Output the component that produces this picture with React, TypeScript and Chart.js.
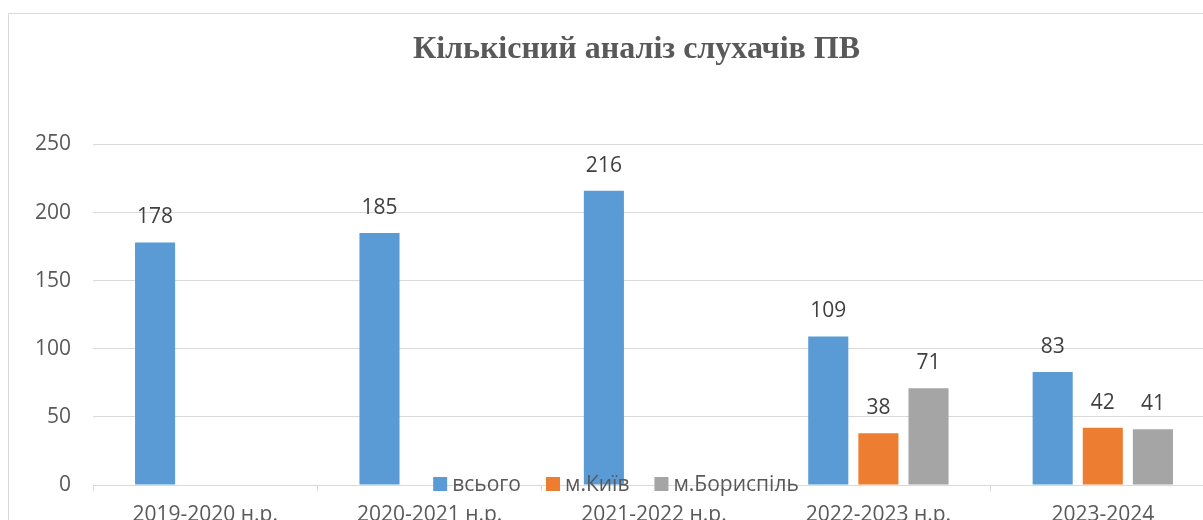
import React, { useEffect, useRef } from "react";
import { Chart, registerables } from "chart.js";

Chart.register(...registerables);

const chartTitle = "Кількісний аналіз слухачів ПВ";
const categories = ["2019-2020 н.р.", "2020-2021 н.р.", "2021-2022 н.р.", "2022-2023 н.р.", "2023-2024"];
const seriesNames = ["всього", "м.Київ", "м.Бориспіль"];
const totalValues = [178, 185, 216, 109, 83];
const kyivValues = [null, null, null, 38, 42];
const boryspilValues = [null, null, null, 71, 41];
const yTicks = [0, 50, 100, 150, 200, 250];

const seriesColors = ["#5B9BD5", "#ED7D31", "#A5A5A5"];
const FONT = "'Open Sans', 'Noto Sans', sans-serif";

const valueLabels = {
  id: "valueLabels",
  afterDatasetsDraw(chart: any) {
    const ctx = chart.ctx;
    ctx.save();
    ctx.font = `21px ${FONT}`;
    ctx.fillStyle = "#404040";
    ctx.textAlign = "center";
    ctx.textBaseline = "alphabetic";
    chart.data.datasets.forEach((ds: any, i: number) => {
      const meta = chart.getDatasetMeta(i);
      meta.data.forEach((el: any, j: number) => {
        const v = ds.data[j];
        if (v === null || v === undefined) return;
        ctx.fillText(String(v), el.x, el.y - 19);
      });
    });
    ctx.restore();
  },
};

const titleShift = {
  id: "titleShift",
  afterLayout(chart: any) {
    if (chart.titleBlock) {
      chart.titleBlock.left = 49;
    }
  },
};

const bottomLegend = {
  id: "bottomLegend",
  afterDraw(chart: any) {
    const ctx = chart.ctx;
    const ca = chart.chartArea;
    ctx.save();
    ctx.font = `21px ${FONT}`;
    const box = 14;
    const gap = 5;
    const spacing = 25;
    const items = chart.data.datasets.map((ds: any) => ({
      text: ds.label,
      color: ds.backgroundColor,
      w: ctx.measureText(ds.label).width,
    }));
    const total =
      items.reduce((s: number, it: any) => s + box + gap + it.w, 0) + spacing * (items.length - 1);
    let x = 607 - total / 2;
    const cy = ca.bottom - 1;
    ctx.textAlign = "left";
    ctx.textBaseline = "middle";
    items.forEach((it: any) => {
      ctx.fillStyle = it.color;
      ctx.fillRect(x, cy - box / 2, box, box);
      ctx.fillStyle = "#595959";
      ctx.fillText(it.text, x + box + gap, cy + 1);
      x += box + gap + it.w + spacing;
    });
    ctx.restore();
  },
};

export default function App() {
  const canvasRef = useRef<HTMLCanvasElement | null>(null);

  useEffect(() => {
    if (!canvasRef.current) return;
    const chart = new Chart(canvasRef.current, {
      type: "bar",
      data: {
        labels: categories,
        datasets: [
          { label: seriesNames[0], data: totalValues, backgroundColor: seriesColors[0] },
          { label: seriesNames[1], data: kyivValues, backgroundColor: seriesColors[1] },
          { label: seriesNames[2], data: boryspilValues, backgroundColor: seriesColors[2] },
        ],
      },
      options: {
        responsive: false,
        animation: false,
        devicePixelRatio: 1,
        layout: { padding: { left: 0, right: 20, top: 0, bottom: 0 } },
        datasets: {
          bar: { categoryPercentage: 0.67, barPercentage: 0.8 },
        },
        plugins: {
          legend: { display: false },
          tooltip: { enabled: false },
          title: {
            display: true,
            text: chartTitle,
            color: "#595959",
            font: { family: "'Liberation Serif', 'Times New Roman', serif", size: 32, weight: "bold" },
            padding: { top: 17, bottom: 75 },
          },
        },
        scales: {
          x: {
            offset: true,
            grid: {
              display: true,
              offset: true,
              drawOnChartArea: false,
              drawTicks: true,
              tickLength: 6,
              color: "#D9D9D9",
            },
            border: { display: true, color: "#D9D9D9", width: 1 },
            ticks: {
              color: "#595959",
              font: { family: FONT, size: 21 },
              padding: 11,
              maxRotation: 0,
              autoSkip: false,
            },
            afterFit: (scale: any) => {
              scale.height = 60;
            },
          },
          y: {
            min: yTicks[0],
            max: yTicks[yTicks.length - 1],
            afterBuildTicks: (scale: any) => {
              scale.ticks = yTicks.map((v) => ({ value: v }));
            },
            grid: { color: "#D9D9D9", drawTicks: false, lineWidth: 1 },
            border: { display: false },
            ticks: {
              color: "#595959",
              font: { family: FONT, size: 21 },
              padding: 22,
            },
            afterFit: (scale: any) => {
              scale.width = 84;
            },
          },
        },
      },
      plugins: [titleShift, valueLabels, bottomLegend],
    });
    return () => chart.destroy();
  }, []);

  return (
    <div
      style={{
        position: "fixed",
        left: 0,
        top: 0,
        width: 1203,
        height: 520,
        overflow: "hidden",
        background: "#ffffff",
      }}
    >
      <div
        style={{
          position: "absolute",
          left: 8,
          top: 13,
          border: "1px solid #D9D9D9",
          background: "#ffffff",
          width: 1226,
          height: 531,
        }}
      >
        <canvas ref={canvasRef} width={1226} height={531} style={{ display: "block" }} />
      </div>
    </div>
  );
}
